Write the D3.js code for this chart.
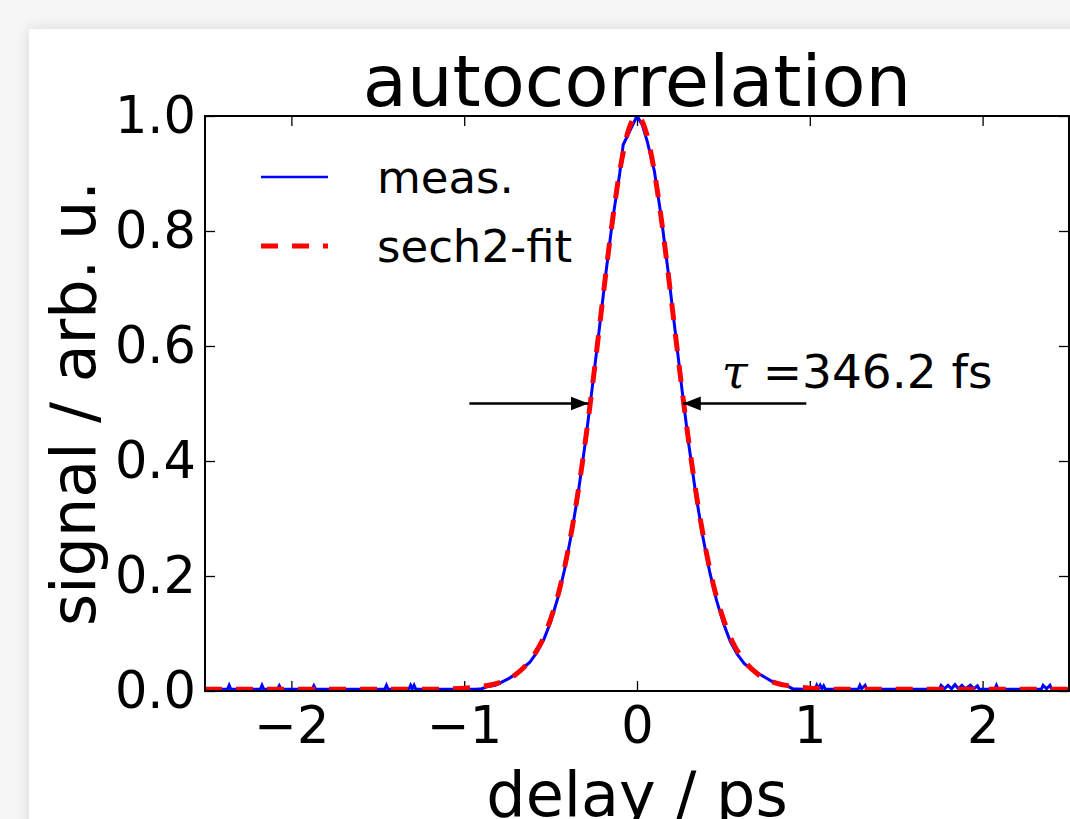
<!DOCTYPE html>
<html>
<head>
<meta charset="utf-8">
<script src="https://cdn.jsdelivr.net/npm/d3@7"></script>
<style>
  html, body { margin: 0; padding: 0; }
  body { width: 1070px; height: 819px; background: #f6f6f6; overflow: hidden; position: relative; }
  #card { position: absolute; left: 29px; top: 29px; width: 1100px; height: 900px; background: #fff;
          box-shadow: 0 0 14px rgba(0,0,0,0.13); }
  #my_dataviz { position: absolute; left: 0; top: 0; }
  text { font-family: "DejaVu Sans", sans-serif; fill: #000; }
</style>
</head>
<body>
<div id="card"></div>
<div id="my_dataviz"></div>
<script>
// measured autocorrelation trace (delay in ps, normalised signal)
var measDelay = [-2.5, -2.37, -2.36, -2.35, -2.18, -2.17, -2.16, -2.08, -2.07, -2.06, -1.88, -1.87, -1.86,
  -1.46, -1.45, -1.44, -1.32, -1.31, -1.30, -1.29, -1.28, -0.93, -0.90, -0.86, -0.82, -0.78, -0.74, -0.70,
  -0.66, -0.62, -0.58, -0.54, -0.50, -0.46, -0.42, -0.38, -0.34, -0.30, -0.26, -0.22, -0.18, -0.14, -0.10,
  -0.08, -0.04, 0.00, 0.03, 0.06, 0.10, 0.14, 0.18, 0.22, 0.26, 0.30, 0.34, 0.38, 0.42, 0.46, 0.50, 0.54,
  0.58, 0.62, 0.66, 0.70, 0.74, 0.78, 0.82, 0.86, 0.90, 0.96, 1.03, 1.04, 1.05, 1.06, 1.07, 1.08, 1.09,
  1.28, 1.29, 1.30, 1.32, 1.33, 1.75, 1.76, 1.78, 1.80, 1.82, 1.84, 1.86, 1.88, 1.90, 1.93, 1.95, 1.97,
  1.98, 2.07, 2.08, 2.09, 2.34, 2.35, 2.37, 2.39, 2.40, 2.5];
var measSignal = [0.003, 0.003, 0.010, 0.003, 0.003, 0.010, 0.003, 0.003, 0.009, 0.003, 0.003, 0.009, 0.003,
  0.003, 0.010, 0.003, 0.003, 0.010, 0.004, 0.010, 0.003, 0.003, 0.004, 0.008, 0.010, 0.016, 0.022, 0.030,
  0.040, 0.050, 0.067, 0.089, 0.120, 0.160, 0.210, 0.272, 0.345, 0.430, 0.525, 0.625, 0.727, 0.822, 0.900,
  0.950, 0.975, 1.000, 0.985, 0.955, 0.905, 0.825, 0.730, 0.628, 0.525, 0.428, 0.343, 0.270, 0.208, 0.158,
  0.118, 0.086, 0.064, 0.048, 0.038, 0.031, 0.024, 0.017, 0.014, 0.010, 0.004, 0.003, 0.003, 0.010, 0.004,
  0.010, 0.004, 0.009, 0.003, 0.003, 0.010, 0.004, 0.010, 0.003, 0.003, 0.010, 0.004, 0.010, 0.004, 0.011,
  0.004, 0.010, 0.004, 0.010, 0.004, 0.009, 0.003, 0.003, 0.010, 0.003, 0.003, 0.010, 0.004, 0.010, 0.003,
  0.003];

// sech2 fit curve
var fitDelay = [-2.5, -1.5, -1.2, -1.0, -0.9, -0.8, -0.7, -0.6, -0.55, -0.5, -0.45, -0.4, -0.35, -0.3, -0.25,
  -0.2, -0.15, -0.1, -0.05, 0, 0.05, 0.1, 0.15, 0.2, 0.25, 0.3, 0.35, 0.4, 0.45, 0.5, 0.55, 0.6, 0.7, 0.8,
  0.9, 1.0, 1.2, 1.5, 2.5];
var fitSignal = [0.003, 0.003, 0.003, 0.005, 0.008, 0.014, 0.029, 0.061, 0.087, 0.125, 0.175, 0.243, 0.329,
  0.432, 0.550, 0.677, 0.800, 0.904, 0.975, 1.0, 0.975, 0.904, 0.800, 0.677, 0.550, 0.432, 0.329, 0.243,
  0.175, 0.125, 0.087, 0.061, 0.029, 0.014, 0.008, 0.005, 0.003, 0.003, 0.003];

var xTicks = [-2, -1, 0, 1, 2];
var yTicks = [0, 0.2, 0.4, 0.6, 0.8, 1.0];
var legendLabels = ["meas.", "sech2-fit"];

// FWHM annotation: arrow tails and tips at half maximum
var arrowTails = [-0.97, 0.98];
var arrowTips = [-0.28, 0.265];
var halfMax = 0.5;
var tauLabel = "346.2 fs";

// set the dimensions and margins of the graph
var margin = {top: 116, right: 1, bottom: 128, left: 205},
    width = 1070 - margin.left - margin.right,
    height = 819 - margin.top - margin.bottom;

var svg = d3.select("#my_dataviz")
    .append("svg")
    .attr("width", 1070)
    .attr("height", 819);

var defs = svg.append("defs");
defs.append("clipPath").attr("id", "plotclip")
    .append("rect").attr("width", width).attr("height", height);
defs.append("marker")
    .attr("id", "head")
    .attr("viewBox", "0 0 18 16")
    .attr("refX", 18).attr("refY", 8)
    .attr("markerWidth", 18).attr("markerHeight", 16)
    .attr("markerUnits", "userSpaceOnUse")
    .attr("orient", "auto")
    .append("path").attr("d", "M0,1 L18,8 L0,15 Z").attr("fill", "#000");

var g = svg.append("g")
    .attr("transform", "translate(" + margin.left + "," + margin.top + ")");

var x = d3.scaleLinear().domain([-2.5, 2.5]).range([0, width]);
var y = d3.scaleLinear().domain([0, 1]).range([height, 0]);

// axes, ticks pointing inwards on all four sides
var styleAxis = function(sel) {
  sel.select(".domain").remove();
  sel.selectAll(".tick line").attr("stroke", "#000").attr("stroke-width", 1.3);
  sel.selectAll(".tick text").style("font-family", "DejaVu Sans").style("font-size", "51px").attr("fill", "#000");
};

g.append("g")
    .attr("transform", "translate(0," + height + ")")
    .call(d3.axisBottom(x).tickValues(xTicks).tickSize(-10).tickPadding(16).tickFormat(d3.format("d")))
    .call(styleAxis);
g.append("g")
    .call(d3.axisTop(x).tickValues(xTicks).tickSize(-10).tickFormat(""))
    .call(styleAxis);
g.append("g")
    .call(d3.axisLeft(y).tickValues(yTicks).tickSize(-10).tickPadding(9).tickFormat(d3.format(".1f")))
    .call(styleAxis);
g.append("g")
    .attr("transform", "translate(" + width + ",0)")
    .call(d3.axisRight(y).tickValues(yTicks).tickSize(-10).tickFormat(""))
    .call(styleAxis);

// curves
var measData = measDelay.map(function(d, i) { return [d, measSignal[i]]; });
var fitData = fitDelay.map(function(d, i) { return [d, fitSignal[i]]; });

var plot = g.append("g").attr("clip-path", "url(#plotclip)");

plot.append("path")
    .datum(measData)
    .attr("fill", "none")
    .attr("stroke", "#0000ff")
    .attr("stroke-width", 3)
    .attr("d", d3.line().x(function(d) { return x(d[0]); }).y(function(d) { return y(d[1]); }));

plot.append("path")
    .datum(fitData)
    .attr("fill", "none")
    .attr("stroke", "#ff0000")
    .attr("stroke-width", 5)
    .attr("stroke-dasharray", "17,14")
    .attr("d", d3.line().curve(d3.curveMonotoneX)
        .x(function(d) { return x(d[0]); }).y(function(d) { return y(d[1]); }));

// frame
g.append("rect")
    .attr("width", width).attr("height", height)
    .attr("fill", "none").attr("stroke", "#000").attr("stroke-width", 2);

// FWHM arrows
arrowTails.forEach(function(t, i) {
  g.append("line")
      .attr("x1", x(t)).attr("y1", y(halfMax))
      .attr("x2", x(arrowTips[i])).attr("y2", y(halfMax))
      .attr("stroke", "#000").attr("stroke-width", 2.5)
      .attr("marker-end", "url(#head)");
});

var tau = g.append("text")
    .attr("x", x(0.49)).attr("y", y(0.527))
    .style("font-size", "47px");
tau.append("tspan").style("font-style", "italic").style("font-family", "DejaVu Serif").text("τ");
tau.append("tspan").text(" =" + tauLabel);

// legend
var legendColors = ["#0000ff", "#ff0000"];
legendLabels.forEach(function(lab, i) {
  var ly = 61 + i * 69;
  g.append("line")
      .attr("x1", 56).attr("x2", 123).attr("y1", ly).attr("y2", ly)
      .attr("stroke", legendColors[i])
      .attr("stroke-width", i === 0 ? 2.5 : 5)
      .attr("stroke-dasharray", i === 0 ? null : "17,14");
  g.append("text")
      .attr("x", 172).attr("y", ly + 16)
      .style("font-size", "45px")
      .text(lab);
});

// title and axis labels
svg.append("text")
    .attr("x", margin.left + width / 2).attr("y", 106)
    .attr("text-anchor", "middle")
    .style("font-size", "72px")
    .text("autocorrelation");

svg.append("text")
    .attr("x", margin.left + width / 2).attr("y", 816)
    .attr("text-anchor", "middle")
    .style("font-size", "62px")
    .text("delay / ps");

svg.append("text")
    .attr("transform", "translate(95," + (margin.top + height / 2) + ") rotate(-90)")
    .attr("text-anchor", "middle")
    .style("font-size", "62px")
    .text("signal / arb. u.");
</script>
</body>
</html>
